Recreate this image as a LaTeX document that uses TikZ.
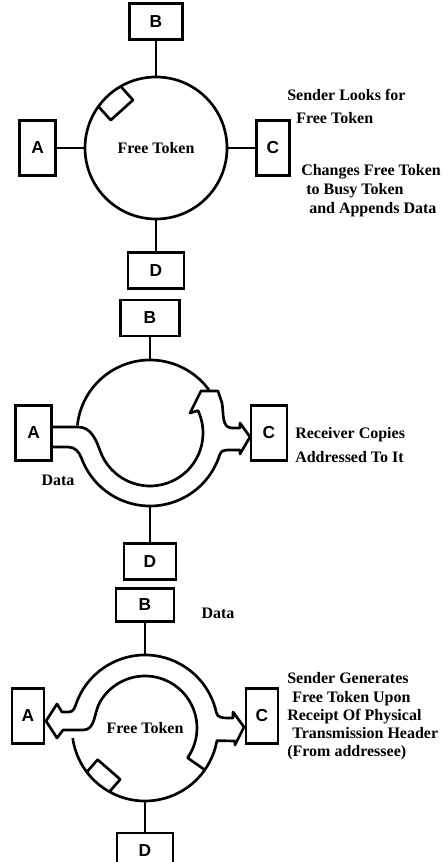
\documentclass[tikz,border=0pt]{standalone}
\usepackage{fontspec}
\setmainfont{Liberation Serif}
\newfontfamily\stationfont{Liberation Sans}
\usepackage{tikz}
\usetikzlibrary{positioning}

\begin{document}
\begin{tikzpicture}[
    x=0.75pt, y=0.75pt,
    font=\bfseries\fontsize{12}{14}\selectfont,
    % Style definitions
    ring/.style={circle, inner sep=0pt, outer sep=0pt, minimum size=109.5pt},
    station/.style={draw, line width=2pt, inner sep=0pt, font=\stationfont\bfseries\fontsize{13}{13}\selectfont},
    hstation/.style={station, minimum width=42pt, minimum height=27pt},
    vstation/.style={station, minimum width=27pt, minimum height=41pt},
    wire/.style={line width=1.6pt},
    band/.style={line width=2pt, line join=round},
    note/.style={anchor=west, inner sep=0pt, align=left}
]
    \path [use as bounding box, fill=white] (0,0) rectangle (448,862);

    % === TOP RING: sender looks for the free token ===
    \node (ring1) [ring, draw, line width=2pt, minimum size=106.5pt] at (156,714) {Free Token};
    \node (B1) [hstation, above=27pt of ring1, minimum width=40pt] {B};
    \node (D1) [hstation, below=24pt of ring1] {D};
    \node (A1) [vstation, left=21pt of ring1] {A};
    \node (C1) [vstation, right=21pt of ring1, minimum width=25pt] {C};

    \draw [wire] (ring1) -- (B1);
    \draw [wire] (ring1) -- (D1);
    \draw [wire] (ring1) -- (A1);
    \draw [wire] (ring1) -- (C1);

    \begin{scope}[shift={(ring1.center)}, rotate=132]
        \draw [band] (70,-15) -- (51,-15) -- (51,15) -- (70,15);
    \end{scope}

    \node (look_txt) [note, font=\bfseries\fontsize{12}{17.25}\selectfont] at (287,755.5) {Sender Looks for\\\hspace*{6.75pt}Free Token};
    \node (change_txt) [note, font=\bfseries\fontsize{12}{14.25}\selectfont] at (301,671) {Changes Free Token\\\hspace*{3.75pt}to Busy Token\\\hspace*{6pt}and Appends Data};

    % === MIDDLE RING: receiver copies the data ===
    \node (ring2) [ring] at (150,429) {};
    \node (B2) [hstation, above=17pt of ring2, minimum width=44pt] {B};
    \node (D2) [hstation, below=27pt of ring2, minimum width=39pt] {D};
    \node (A2) [vstation, left=18pt of ring2] {A};
    \node (C2) [vstation, right=20pt of ring2] {C};

    \draw [wire] (ring2) -- (B2);
    \draw [wire] (ring2) -- (D2);

    \begin{scope}[shift={(ring2.center)}]
        \draw [band] (174:73) arc[start angle=174, end angle=36, radius=73];
        \draw [band] (-98,6) -- (-72,6) to[out=0,in=110] (200:53)
            arc[start angle=200, end angle=385, radius=53]
            -- (40,20) -- (51,42) -- (68,42) -- (72,30) to[out=-80,in=180] (82,5)
            -- (90,5) -- (90,10) -- (100,-4) -- (90,-21) -- (90,-17) -- (82,-17)
            to[out=180,in=73] (343:73) arc[start angle=343, end angle=200, radius=73]
            to[out=110,in=0] (-82,-14) -- (-98,-14);
    \end{scope}

    \node (recv_txt) [note, font=\bfseries\fontsize{12}{18}\selectfont] at (295,417) {Receiver Copies\\Addressed To It};
    \node (data_in) at (58,382) {Data};

    % === BOTTOM RING: sender releases a new free token ===
    \node (ring3) [ring] at (145,134) {Free Token};
    \node (B3) [hstation, above=24pt of ring3, minimum width=43.5pt, minimum height=25pt] {B};
    \node (D3) [hstation, below=23pt of ring3] {D};
    \node (A3) [vstation, left=20pt of ring3, yshift=9pt, minimum width=24pt] {A};
    \node (C3) [vstation, right=20pt of ring3, yshift=9pt, minimum width=24pt] {C};

    \draw [wire] (ring3) -- (B3);
    \draw [wire] (ring3) -- (D3);

    \begin{scope}[shift={(ring3.center)}]
        \draw [band] (-82,-2) -- (-88,-10) -- (-99,7) -- (-88,24) -- (-83,16) -- (-76,16)
            to[out=0,in=250] (160:73) arc[start angle=160, end angle=12, radius=73]
            to[out=-78,in=180] (83,10) -- (88,10) -- (88,16) -- (99,1) -- (90,-17) -- (90,-13)
            -- (-10:73) arc[start angle=-10, end angle=-35, radius=73]
            -- (-35:52) arc[start angle=-35, end angle=150, radius=52]
            to[out=240,in=0] (-62,-2) -- cycle;
        \draw [band] (-35:73) arc[start angle=-35, end angle=-172, radius=73];
        \begin{scope}[rotate=229]
            \draw [band] (72,-15) -- (55,-15) -- (55,15) -- (72,15);
        \end{scope}
    \end{scope}

    \node (data_out) at (218,249) {Data};
    \node (gen_txt) [note, font=\bfseries\fontsize{12}{13.7}\selectfont] at (287,145.5) {Sender Generates\\\hspace*{3.75pt}Free Token Upon\\Receipt Of Physical\\\hspace*{3.75pt}Transmission Header\\(From addressee)};

\end{tikzpicture}
\end{document}
